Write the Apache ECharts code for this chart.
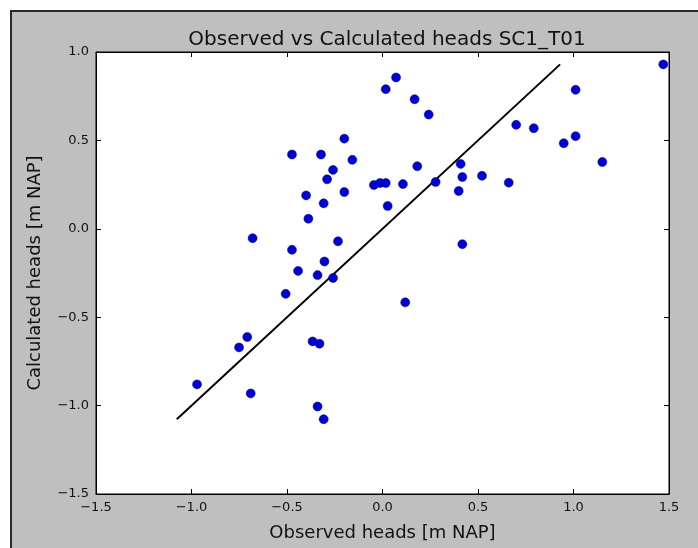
<!DOCTYPE html>
<html>
<head>
<meta charset="utf-8">
<script src="https://cdn.jsdelivr.net/npm/echarts@6/dist/echarts.min.js"></script>
<style>
html,body{margin:0;padding:0;width:698px;height:548px;overflow:hidden;background:#fff;}
#frame{position:absolute;left:10px;top:10px;width:800px;height:700px;border:2px solid #2a2a2a;background:#bfbfbf;}
#chart{position:absolute;left:0;top:0;width:698px;height:548px;}
</style>
</head>
<body>
<div id="frame"></div>
<div id="chart"></div>
<script>
const observed = [0.017,-0.20,-0.474,-0.322,-0.158,-0.259,-0.29,-0.045,-0.013,0.017,-0.40,-0.20,-0.308,0.027,-0.388,-0.68,-0.474,-0.233,-0.304,-0.442,-0.34,-0.259,-0.507,-0.708,-0.751,-0.366,-0.330,-0.971,-0.69,-0.34,-0.308,0.071,0.168,0.242,1.47,1.011,0.70,0.792,0.949,1.011,1.151,0.409,0.182,0.418,0.521,0.107,0.278,0.399,0.661,0.418,0.119];
const calculated = [0.79,0.51,0.42,0.42,0.39,0.333,0.28,0.248,0.259,0.259,0.189,0.208,0.144,0.129,0.057,-0.053,-0.119,-0.071,-0.185,-0.238,-0.262,-0.278,-0.368,-0.612,-0.671,-0.637,-0.65,-0.880,-0.931,-1.005,-1.077,0.856,0.733,0.646,0.93,0.786,0.588,0.569,0.484,0.524,0.378,0.367,0.354,0.293,0.30,0.253,0.265,0.214,0.261,-0.087,-0.416];
const lineX = [-1.077, 0.93];
const lineY = [-1.077, 0.93];
const titleText = 'Observed vs Calculated heads SC1_T01';
const xLabel = 'Observed heads [m NAP]';
const yLabel = 'Calculated heads [m NAP]';

const fmt = v => v.toFixed(1).replace('-', '\u2212');
const font = 'DejaVu Sans';
const tickCommon = {show:true, inside:true, length:5, lineStyle:{color:'#000', width:1}};
const lineCommon = {show:true, onZero:false, lineStyle:{color:'#000', width:1}};

const chart = echarts.init(document.getElementById('chart'), null, {renderer:'canvas'});
chart.setOption({
  backgroundColor:'transparent',
  animation:false,
  title:{text:titleText, left:382, top:25, textAlign:'center',
    textStyle:{fontFamily:font, fontSize:20, fontWeight:'normal', color:'#111'}},
  grid:{left:96, right:29, top:52, bottom:54, show:true, backgroundColor:'#fff', borderColor:'#000', borderWidth:1},
  xAxis:[
    {type:'value', min:-1.5, max:1.5, interval:0.5, position:'bottom',
     name:xLabel, nameLocation:'middle', nameGap:30,
     nameTextStyle:{fontFamily:font, fontSize:18, color:'#111'},
     axisLine:lineCommon, axisTick:tickCommon, splitLine:{show:false},
     axisLabel:{formatter:fmt, fontFamily:font, fontSize:13, color:'#111', margin:7}},
    {type:'value', min:-1.5, max:1.5, interval:0.5, position:'top',
     axisLine:lineCommon, axisTick:tickCommon, splitLine:{show:false}, axisLabel:{show:false}}
  ],
  yAxis:[
    {type:'value', min:-1.5, max:1.0, interval:0.5, position:'left',
     name:yLabel, nameLocation:'middle', nameGap:52, nameRotate:90,
     nameTextStyle:{fontFamily:font, fontSize:18, color:'#111'},
     axisLine:lineCommon, axisTick:tickCommon, splitLine:{show:false},
     axisLabel:{formatter:fmt, fontFamily:font, fontSize:13, color:'#111', margin:7}},
    {type:'value', min:-1.5, max:1.0, interval:0.5, position:'right',
     axisLine:lineCommon, axisTick:tickCommon, splitLine:{show:false}, axisLabel:{show:false}}
  ],
  series:[
    {type:'line', data:lineX.map((x,i)=>[x,lineY[i]]), symbol:'none',
     lineStyle:{color:'#000', width:2}, z:2},
    {type:'scatter', data:observed.map((x,i)=>[x,calculated[i]]), symbol:'circle', symbolSize:9,
     itemStyle:{color:'#0000d4', borderColor:'#00007a', borderWidth:0.5, opacity:1}, z:3}
  ]
});
</script>
</body>
</html>
